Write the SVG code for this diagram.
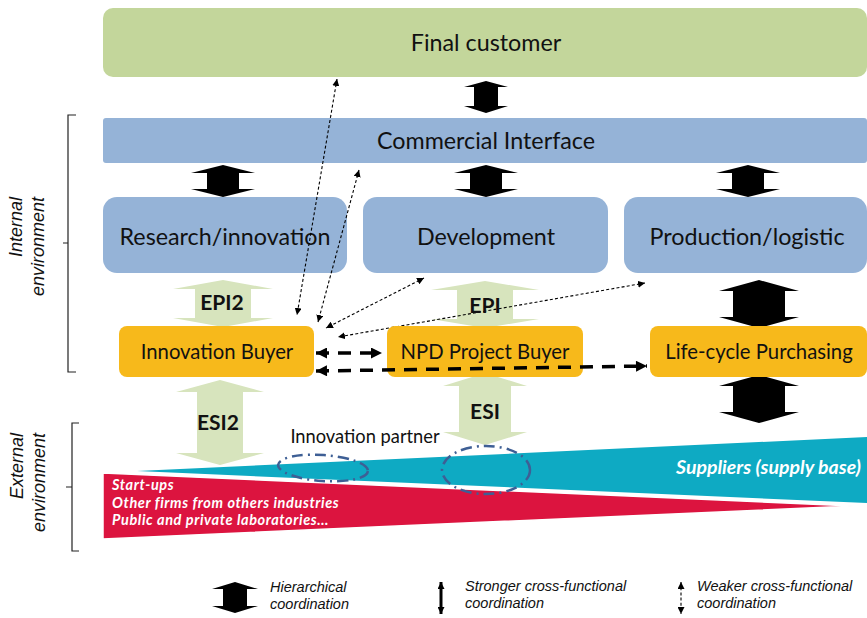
<svg xmlns="http://www.w3.org/2000/svg" width="867" height="618" viewBox="0 0 867 618">
  <style>
    .lbl { font-family: Lato, "Open Sans", sans-serif; fill: #111; text-anchor: middle; }
    .big { font-size: 23.3px; }
    .buyer { font-size: 20.3px; }
    .epi { font-family: Lato, "Open Sans", sans-serif; font-weight: bold; font-size: 21px; fill: #111; text-anchor: middle; }
    .env { font-family: "Liberation Sans", Arial, sans-serif; font-style: italic; font-size: 18px; fill: #111; text-anchor: end; }
    .leg { font-family: "Liberation Sans", Arial, sans-serif; font-style: italic; font-size: 14.5px; fill: #111; }
    .ext { font-family: Lato, "Open Sans", sans-serif; font-style: italic; font-weight: bold; fill: #fff; }
    .src { font-size: 14.5px; letter-spacing: 0.6px; }
    .hier { fill: #000; }
    .soft { fill: #d7e4bd; }
    .blue { fill: #95b3d7; }
    .orange { fill: #f7b91b; }
    .weak { fill: none; stroke: #000; stroke-width: 1.1; stroke-dasharray: 3 2.2; }
    .strong { fill: none; stroke: #000; stroke-width: 3.5; stroke-dasharray: 13 9; }
    .bracket { fill: none; stroke: #222; stroke-width: 1.2; }
    .partner { fill: none; stroke: #3e5f95; stroke-width: 2.5; stroke-dasharray: 11 5 2 5; }
  </style>
  <defs>
    <marker id="weakHead" viewBox="0 0 10 10" refX="10" refY="5" markerWidth="7" markerHeight="7" markerUnits="userSpaceOnUse" orient="auto-start-reverse">
      <path d="M0,0 L10,5 L0,10 Z" fill="#000"/>
    </marker>
    <marker id="strongHead" viewBox="0 0 10 10" refX="10" refY="5" markerWidth="12" markerHeight="11" markerUnits="userSpaceOnUse" orient="auto-start-reverse">
      <path d="M0,0 L10,5 L0,10 Z" fill="#000"/>
    </marker>
  </defs>

  <rect width="867" height="618" fill="#fff"/>

  <!-- environment brackets -->
  <g id="internal-environment">
    <path class="bracket" d="M76,115 H68 V372 H76 M68,243 H63"/>
    <text class="env" transform="translate(22,197) rotate(-90)">Internal</text>
    <text class="env" transform="translate(44,197) rotate(-90)">environment</text>
  </g>
  <g id="external-environment">
    <path class="bracket" d="M79,423 H72 V551 H79 M72,487 H66"/>
    <text class="env" transform="translate(23,433) rotate(-90)">External</text>
    <text class="env" transform="translate(45,433) rotate(-90)">environment</text>
  </g>

  <!-- supply base and other sources -->
  <g id="suppliers">
    <polygon points="137,471 867,437 867,503" fill="#0eaac3"/>
    <text class="ext" x="861" y="474" font-size="19.5" text-anchor="end">Suppliers (supply base)</text>
  </g>
  <g id="other-sources">
    <polygon points="103,473 853,506 103,539" fill="#dc143f" stroke="#fff" stroke-width="1.5"/>
    <text class="ext src" x="112" y="490">Start-ups</text>
    <text class="ext src" x="112" y="507.5">Other firms from others industries</text>
    <text class="ext src" x="112" y="525">Public and private laboratories…</text>
  </g>

  <!-- top level nodes -->
  <g id="final-customer">
    <rect x="103" y="8" width="764" height="69" rx="10" fill="#c3d69b"/>
    <text class="lbl big" x="486" y="51">Final customer</text>
  </g>
  <g id="commercial-interface">
    <rect x="103" y="118" width="764" height="45" rx="3" class="blue"/>
    <text class="lbl big" x="486" y="149">Commercial Interface</text>
  </g>
  <g id="research-innovation">
    <rect x="103" y="197" width="244" height="76" rx="14" class="blue"/>
    <text class="lbl big" x="225" y="245">Research/innovation</text>
  </g>
  <g id="development">
    <rect x="363" y="197" width="245" height="76" rx="14" class="blue"/>
    <text class="lbl big" x="486" y="245">Development</text>
  </g>
  <g id="production-logistic">
    <rect x="624" y="197" width="243" height="76" rx="14" class="blue"/>
    <text class="lbl big" x="747" y="245">Production/logistic</text>
  </g>

  <!-- hierarchical and interface arrows -->
  <g id="connectors">
    <!-- hierarchical coordination -->
    <polygon class="hier" points="486,81 508,87 498,87 498,106 508,106 486,113 464,106 474,106 474,87 464,87"/>
    <polygon class="hier" points="223,165 255,173 239,173 239,189 255,189 223,197 191,189 207,189 207,173 191,173"/>
    <polygon class="hier" points="486,165 518,173 502,173 502,189 518,189 486,197 454,189 470,189 470,173 454,173"/>
    <polygon class="hier" points="748,165 780,173 764,173 764,189 780,189 748,197 716,189 732,189 732,173 716,173"/>
    <polygon class="hier" points="759,280 799,291 785,291 785,317 799,317 759,328 719,317 733,317 733,291 719,291"/>
    <polygon class="hier" points="759,375 799,386 785,386 785,412 799,412 759,423 719,412 733,412 733,386 719,386"/>

    <!-- early involvement arrows -->
    <polygon class="soft" points="223,280 273,289 251,289 251,318 273,318 223,327 173,318 195,318 195,289 173,289"/>
    <polygon class="soft" points="485,281 539,290 513,290 513,319 539,319 485,328 431,319 457,319 457,290 431,290"/>
    <polygon class="soft" points="220,380 264,392 243,392 243,453 264,453 220,465 176,453 197,453 197,392 176,392"/>
    <polygon class="soft" points="485,373 527,386 511,386 511,432 527,432 485,445 443,432 459,432 459,386 443,386"/>

    <!-- weaker cross-functional coordination -->
    <line class="weak" x1="337" y1="79" x2="297" y2="315" marker-start="url(#weakHead)" marker-end="url(#weakHead)"/>
    <line class="weak" x1="359" y1="170" x2="318" y2="322" marker-start="url(#weakHead)" marker-end="url(#weakHead)"/>
    <line class="weak" x1="424" y1="278" x2="326" y2="328" marker-start="url(#weakHead)" marker-end="url(#weakHead)"/>
    <line class="weak" x1="645" y1="283" x2="338" y2="337" marker-start="url(#weakHead)" marker-end="url(#weakHead)"/>
  </g>

  <g id="epi-labels">
    <text class="epi" x="222" y="310">EPI2</text>
    <text class="epi" x="485" y="313">EPI</text>
    <text class="epi" x="218" y="430">ESI2</text>
    <text class="epi" x="485" y="419">ESI</text>
  </g>

  <!-- purchasing nodes -->
  <g id="innovation-buyer">
    <rect x="119" y="326" width="195" height="51" rx="8" class="orange"/>
    <text class="lbl buyer" x="217" y="359">Innovation Buyer</text>
  </g>
  <g id="npd-project-buyer">
    <rect x="387" y="326" width="196" height="51" rx="8" class="orange"/>
    <text class="lbl buyer" x="485" y="359">NPD Project Buyer</text>
  </g>
  <g id="life-cycle-purchasing">
    <rect x="650" y="326" width="217" height="51" rx="8" class="orange"/>
    <text class="lbl buyer" x="759" y="359">Life-cycle Purchasing</text>
  </g>

  <!-- stronger cross-functional coordination -->
  <g id="strong-connectors">
    <line class="strong" x1="316" y1="353" x2="382" y2="353" marker-start="url(#strongHead)" marker-end="url(#strongHead)" stroke-dasharray="10 13"/>
    <line class="strong" x1="316" y1="371" x2="647" y2="366" marker-start="url(#strongHead)" marker-end="url(#strongHead)"/>
  </g>

  <!-- innovation partners -->
  <g id="innovation-partner">
    <text class="lbl" x="365" y="443" font-size="18.3" style="fill:#111">Innovation partner</text>
    <ellipse class="partner" cx="323" cy="468" rx="45" ry="13" transform="rotate(4 323 468)"/>
    <ellipse class="partner" cx="486" cy="470" rx="44" ry="24"/>
  </g>

  <!-- legend -->
  <g id="legend">
    <polygon class="hier" points="235,582 258,589 247,589 247,606 258,606 235,613 212,606 223,606 223,589 212,589"/>
    <text class="leg" x="270" y="592">Hierarchical</text>
    <text class="leg" x="270" y="609">coordination</text>
    <line x1="441" y1="582" x2="441" y2="614" stroke="#000" stroke-width="3" marker-start="url(#weakHead)" marker-end="url(#weakHead)"/>
    <text class="leg" x="465" y="591">Stronger cross-functional</text>
    <text class="leg" x="465" y="608">coordination</text>
    <line x1="681" y1="582" x2="681" y2="614" class="weak" marker-start="url(#weakHead)" marker-end="url(#weakHead)"/>
    <text class="leg" x="697" y="591">Weaker cross-functional</text>
    <text class="leg" x="697" y="608">coordination</text>
  </g>
</svg>
